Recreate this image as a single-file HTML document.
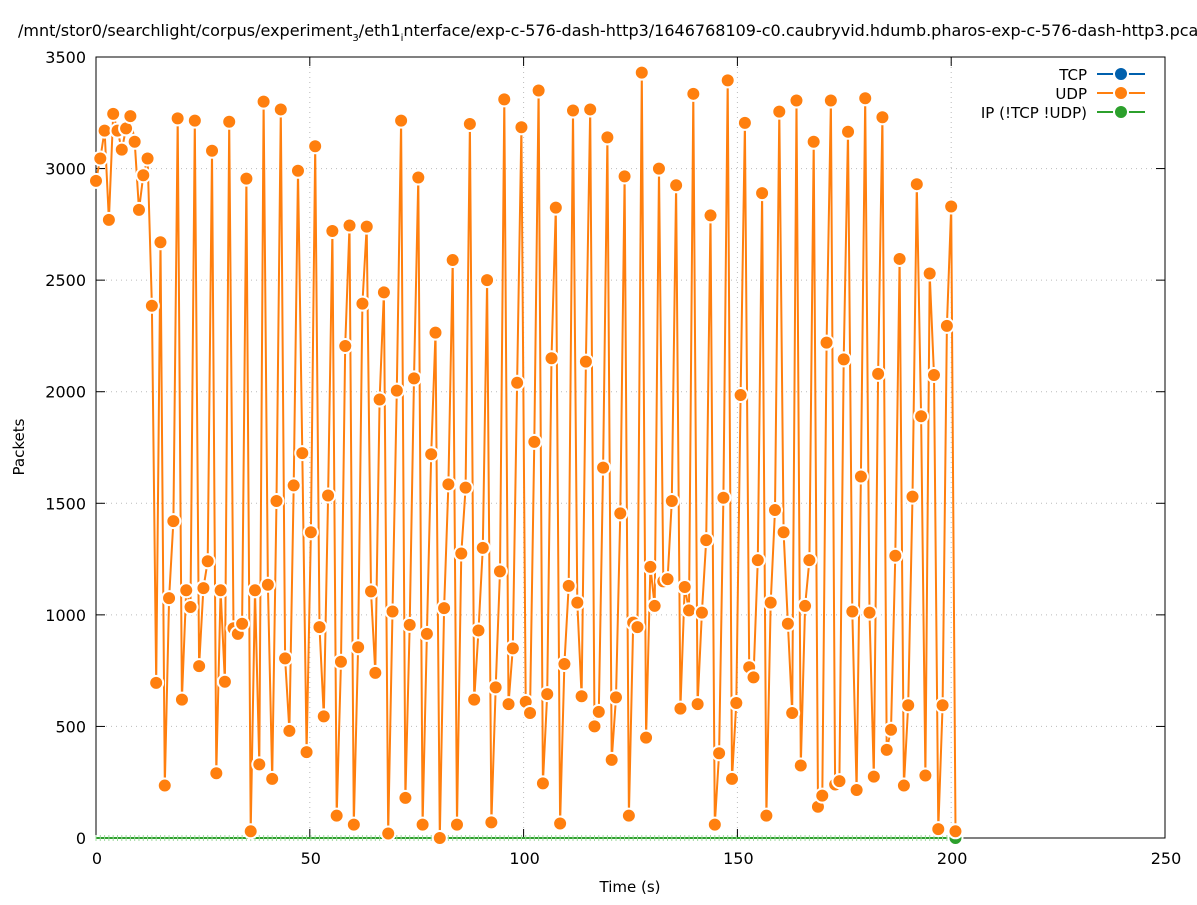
<!DOCTYPE html>
<html><head><meta charset="utf-8"><style>
body{margin:0;background:#fff}
svg text{font-family:"DejaVu Sans","Liberation Sans",sans-serif;font-size:15px;fill:#000}
</style></head><body>
<svg id="s" width="1197" height="900" xmlns="http://www.w3.org/2000/svg">
<rect width="1197" height="900" fill="#fff"/>
<g id="grid" stroke="#bbb" stroke-width="1" stroke-dasharray="1,4"></g>
<g id="ticks"></g>
<rect x="96" y="57" width="1069" height="781" fill="none" stroke="#000" stroke-width="1"/>
<text x="18" y="36" style="font-size:16px">/mnt/stor0/searchlight/corpus/experiment<tspan font-size="10" dy="5">3</tspan><tspan dy="-5">/eth1</tspan><tspan font-size="10" dy="5">i</tspan><tspan dy="-5">nterface/exp-c-576-dash-http3/1646768109-c0.caubryvid.hdumb.pharos-exp-c-576-dash-http3.pcap</tspan></text>
<text x="630" y="892" text-anchor="middle">Time (s)</text>
<text transform="translate(24,447) rotate(-90)" text-anchor="middle">Packets</text>
<g id="green"></g>
<g id="data"></g>
<g>
<text x="1087" y="80" text-anchor="end">TCP</text>
<line x1="1097" y1="74" x2="1145" y2="74" stroke="#0060ad" stroke-width="2"/>
<circle cx="1121" cy="74" r="7" fill="#0060ad" stroke="#fff" stroke-width="2"/>
<text x="1087" y="99" text-anchor="end">UDP</text>
<line x1="1097" y1="93" x2="1145" y2="93" stroke="#ff7f0e" stroke-width="2"/>
<circle cx="1121" cy="93" r="7" fill="#ff7f0e" stroke="#fff" stroke-width="2"/>
<text x="1087" y="118" text-anchor="end">IP (!TCP  !UDP)</text>
<line x1="1097" y1="112" x2="1145" y2="112" stroke="#2ca02c" stroke-width="2"/>
<circle cx="1121" cy="112" r="7" fill="#2ca02c" stroke="#fff" stroke-width="2"/>
</g>
</svg>
<script>
var v=[2945,3045,3170,2770,3245,3170,3085,3180,3235,3120,2815,2970,3045,2385,695,2670,235,1075,1420,3225,620,1110,1035,3215,770,1120,1240,3080,290,1110,700,3210,940,915,960,2955,30,1110,330,3300,1135,265,1510,3265,805,480,1580,2990,1725,385,1370,3100,945,545,1535,2720,100,790,2205,2745,60,855,2395,2740,1105,740,1965,2445,20,1015,2005,3215,180,955,2060,2960,60,915,1720,2265,0,1030,1585,2590,60,1275,1570,3200,620,930,1300,2500,70,675,1195,3310,600,850,2040,3185,610,560,1775,3350,245,645,2150,2825,65,780,1130,3260,1055,635,2135,3265,500,565,1660,3140,350,630,1455,2965,100,965,945,3430,450,1215,1040,3000,1150,1160,1510,2925,580,1125,1020,3335,600,1010,1335,2790,60,380,1525,3395,265,605,1985,3205,765,720,1245,2890,100,1055,1470,3255,1370,960,560,3305,325,1040,1245,3120,140,190,2220,3305,240,255,2145,3165,1015,215,1620,3315,1010,275,2080,3230,395,485,1265,2595,235,595,1530,2930,1890,280,2530,2075,40,595,2295,2830,30];
var NS="http://www.w3.org/2000/svg";
function X(t){return 96+t*1069/250}function Y(p){return 838-p*781/3500}
function el(n,a,p){var e=document.createElementNS(NS,n);for(var k in a)e.setAttribute(k,a[k]);p.appendChild(e);return e}
var g=document.getElementById('grid'),tk=document.getElementById('ticks');
for(var i=0;i<=7;i++){var y=Y(i*500);if(i>0&&i<7)el('line',{x1:96,x2:1165,y1:y,y2:y},g);
el('line',{x1:96,x2:105,y1:y,y2:y,stroke:'#000'},tk);el('line',{x1:1156,x2:1165,y1:y,y2:y,stroke:'#000'},tk);
var t=el('text',{x:86,y:y+6,'text-anchor':'end',style:'font-size:16px'},tk);t.textContent=i*500;}
for(var i=0;i<=5;i++){var x=X(i*50);if(i>0&&i<5)el('line',{x1:x,x2:x,y1:57,y2:838},g);
el('line',{x1:x,x2:x,y1:829,y2:838,stroke:'#000'},tk);el('line',{x1:x,x2:x,y1:57,y2:66,stroke:'#000'},tk);
var t=el('text',{x:x+1,y:864,'text-anchor':'middle',style:'font-size:16px'},tk);t.textContent=i*50;}
var gr=document.getElementById('green');
el('line',{x1:96,x2:X(201),y1:838,y2:838,stroke:'#2ca02c','stroke-width':2},gr);
for(var i=0;i<=200;i+=1)el('line',{x1:X(i*201/200),x2:X(i*201/200),y1:835,y2:841,stroke:'#9fd89f','stroke-width':1},gr);
el('circle',{cx:X(201),cy:838,r:7,fill:'#2ca02c',stroke:'#fff','stroke-width':2},gr);
var d=document.getElementById('data'),pts=[];
for(var i=0;i<v.length;i++)pts.push(X(i*201/200).toFixed(1)+','+Y(v[i]).toFixed(1));
el('polyline',{points:pts.join(' '),fill:'none',stroke:'#ff7f0e','stroke-width':2},d);
for(var i=0;i<v.length;i++)el('circle',{cx:X(i*201/200),cy:Y(v[i]),r:7,fill:'#ff7f0e',stroke:'#fff','stroke-width':2},d);
</script>
</body></html>
